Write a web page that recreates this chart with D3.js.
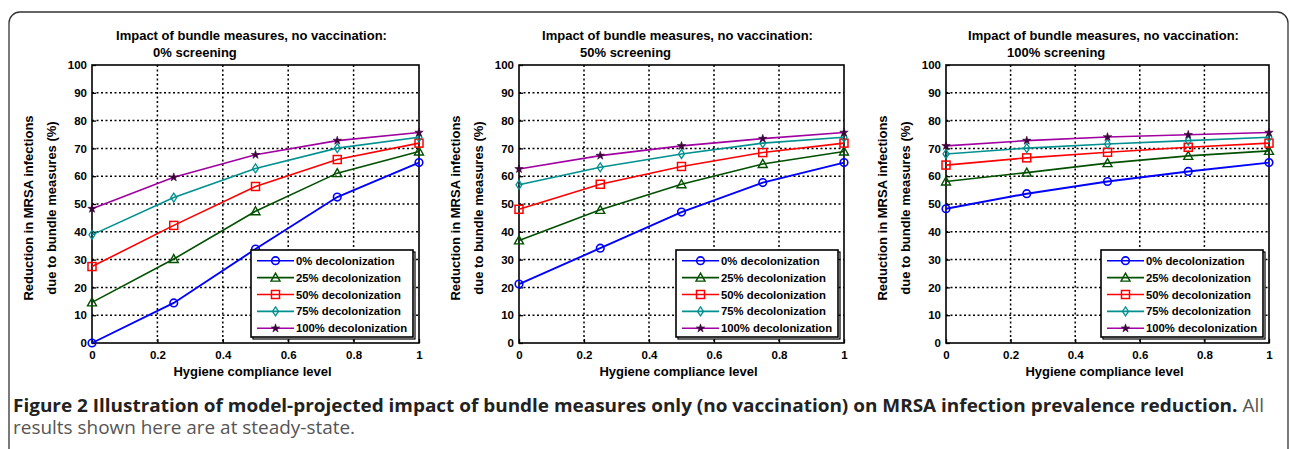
<!DOCTYPE html>
<html>
<head>
<meta charset="utf-8">
<script src="https://cdn.jsdelivr.net/npm/d3@7"></script>
<style>
  html, body { margin: 0; padding: 0; background: #fff; }
  svg { display: block; }
</style>
</head>
<body>
<svg id="chart" width="1290" height="449"></svg>
<script>
// ---------------- DATA ----------------
const hygieneLevels = [0, 0.25, 0.5, 0.75, 1];
const xTickValues = [0, 0.2, 0.4, 0.6, 0.8, 1];
const xTickLabels = ["0", "0.2", "0.4", "0.6", "0.8", "1"];
const yTickValues = [0, 10, 20, 30, 40, 50, 60, 70, 80, 90, 100];
const seriesNames = ["0% decolonization", "25% decolonization", "50% decolonization", "75% decolonization", "100% decolonization"];
const panelSubtitles = ["0% screening", "50% screening", "100% screening"];
const titleLine1 = "Impact of bundle measures, no vaccination:";
const yLabelLines = ["Reduction in MRSA infections", "due to bundle measures (%)"];
const xLabel = "Hygiene compliance level";

// each row: one decolonization level, values at hygieneLevels
const screening0 = [
  [0, 14.4, 33.8, 52.5, 64.9],
  [14.6, 30.2, 47.4, 61.1, 68.9],
  [27.5, 42.3, 56.3, 66.0, 71.9],
  [38.9, 52.3, 62.8, 70.1, 74.0],
  [48.3, 59.6, 67.7, 72.8, 75.7]
];
const screening50 = [
  [21.2, 34.1, 47.1, 57.7, 64.9],
  [36.9, 47.9, 57.1, 64.4, 68.9],
  [48.1, 57.1, 63.5, 68.5, 71.9],
  [56.9, 63.2, 68.0, 71.9, 74.0],
  [62.6, 67.4, 70.9, 73.5, 75.7]
];
const screening100 = [
  [48.3, 53.7, 58.1, 61.7, 64.9],
  [58.1, 61.3, 64.7, 67.3, 69.1],
  [64.0, 66.6, 68.6, 70.4, 71.9],
  [68.0, 70.1, 71.6, 72.8, 74.0],
  [70.9, 72.8, 74.1, 74.9, 75.7]
];
const panelData = [screening0, screening50, screening100];

const captionBold = "Figure 2 Illustration of model-projected impact of bundle measures only (no vaccination) on MRSA infection prevalence reduction.";
const captionRest = " All";
const captionLine2 = "results shown here are at steady-state.";

// ---------------- STYLE ----------------
const seriesColors = ["#0000ff", "#005000", "#ff0000", "#009090", "#a000a0"];
const markerTypes = ["circle", "triangle", "square", "diamond", "star"];
const panelX = [[92, 419], [519, 844], [946, 1269]];
const plotTop = 65, plotBottom = 343;
const chartFont = "'Liberation Sans', Arial, sans-serif";

const svg = d3.select("#chart");

// outer rounded frame
(function(){
  const x0 = 9, y0 = 12, x1 = 1288, r = 11, yEnd = 470;
  const p = d3.path();
  p.moveTo(x0, yEnd);
  p.lineTo(x0, y0 + r);
  p.arcTo(x0, y0, x0 + r, y0, r);
  p.lineTo(x1 - r, y0);
  p.arcTo(x1, y0, x1, y0 + r, r);
  p.lineTo(x1, yEnd);
  svg.append("path").attr("d", p.toString()).attr("fill", "none")
    .attr("stroke", "#333").attr("stroke-width", 1.3);
})();

function drawMarker(g, type, cx, cy, color) {
  if (type === "circle") {
    g.append("circle").attr("cx", cx).attr("cy", cy).attr("r", 3.8)
      .attr("fill", "none").attr("stroke", color).attr("stroke-width", 1.6);
  } else if (type === "triangle") {
    g.append("path").attr("d", `M${cx},${cy-4.5}L${cx+4.5},${cy+3.5}L${cx-4.5},${cy+3.5}Z`)
      .attr("fill", "none").attr("stroke", color).attr("stroke-width", 1.4);
  } else if (type === "square") {
    g.append("rect").attr("x", cx - 4).attr("y", cy - 4).attr("width", 8).attr("height", 8)
      .attr("fill", "none").attr("stroke", color).attr("stroke-width", 1.5);
  } else if (type === "diamond") {
    g.append("path").attr("d", `M${cx},${cy-4.5}L${cx+3},${cy}L${cx},${cy+4.5}L${cx-3},${cy}Z`)
      .attr("fill", "none").attr("stroke", color).attr("stroke-width", 1.3);
  } else if (type === "star") {
    g.append("path").attr("d", d3.symbol().type(d3.symbolStar).size(22)())
      .attr("transform", `translate(${cx},${cy})`)
      .attr("fill", "#3a003a").attr("stroke", "#3a003a").attr("stroke-width", 0.6);
  }
}

panelData.forEach((data, pi) => {
  const [left, right] = panelX[pi];
  const x = d3.scaleLinear().domain([0, 1]).range([left, right]);
  const y = d3.scaleLinear().domain([0, 100]).range([plotBottom, plotTop]);
  const g = svg.append("g");

  // grid
  g.append("g").selectAll("line").data(xTickValues.slice(1, -1)).join("line")
    .attr("x1", d => x(d)).attr("x2", d => x(d)).attr("y1", plotTop).attr("y2", plotBottom)
    .attr("stroke", "#000").attr("stroke-width", 1.5).attr("stroke-dasharray", "2,2.5");
  g.append("g").selectAll("line").data(yTickValues.slice(1, -1)).join("line")
    .attr("y1", d => y(d)).attr("y2", d => y(d)).attr("x1", left).attr("x2", right)
    .attr("stroke", "#000").attr("stroke-width", 1.5).attr("stroke-dasharray", "2,2.5");

  // axes
  const xAxis = d3.axisBottom(x).tickValues(xTickValues).tickFormat((d, i) => xTickLabels[i])
    .tickSizeInner(-4).tickSizeOuter(0).tickPadding(8);
  const yAxis = d3.axisLeft(y).tickValues(yTickValues).tickFormat(d3.format("d"))
    .tickSizeInner(-4).tickSizeOuter(0).tickPadding(5);
  const gx = g.append("g").attr("transform", `translate(0,${plotBottom})`).call(xAxis);
  const gy = g.append("g").attr("transform", `translate(${left},0)`).call(yAxis);
  [gx, gy].forEach(a => {
    a.select(".domain").remove();
    a.selectAll("line").attr("stroke", "#000").attr("stroke-width", 1.3);
    a.selectAll("text").attr("font-family", chartFont).attr("font-weight", "bold")
      .attr("font-size", 11.5).attr("fill", "#000");
  });

  // frame
  g.append("rect").attr("x", left).attr("y", plotTop).attr("width", right - left)
    .attr("height", plotBottom - plotTop).attr("fill", "none")
    .attr("stroke", "#000").attr("stroke-width", 1.6);

  // series
  const line = d3.line().x((d, i) => x(hygieneLevels[i])).y(d => y(d));
  data.forEach((vals, si) => {
    g.append("path").datum(vals).attr("d", line).attr("fill", "none")
      .attr("stroke", seriesColors[si]).attr("stroke-width", si === 0 ? 1.9 : 1.6);
    vals.forEach((v, i) => drawMarker(g, markerTypes[si], x(hygieneLevels[i]), y(v), seriesColors[si]));
  });

  // titles
  g.append("text").attr("x", (left + right) / 2 - 4).attr("y", 39.5).attr("text-anchor", "middle")
    .attr("font-family", chartFont).attr("font-weight", "bold").attr("font-size", 13)
    .text(titleLine1);
  g.append("text").attr("x", left + 61).attr("y", 56.5)
    .attr("font-family", chartFont).attr("font-weight", "bold").attr("font-size", 13)
    .text(panelSubtitles[pi]);

  // x label
  g.append("text").attr("x", (left + right) / 2 - 3).attr("y", 376).attr("text-anchor", "middle")
    .attr("font-family", chartFont).attr("font-weight", "bold").attr("font-size", 13)
    .text(xLabel);

  // y label
  const cy = (plotTop + plotBottom) / 2 + 4;
  [left - 59, left - 36].forEach((lx, li) => {
    g.append("text").attr("transform", `translate(${lx},${cy}) rotate(-90)`)
      .attr("text-anchor", "middle")
      .attr("font-family", chartFont).attr("font-weight", "bold").attr("font-size", 13)
      .text(yLabelLines[li]);
  });

  // legend
  const lw = 162, lh = 87;
  const lx = right - 168, ly = 250;
  const lg = g.append("g");
  lg.append("rect").attr("x", lx + 2).attr("y", ly + 2).attr("width", lw).attr("height", lh)
    .attr("fill", "none").attr("stroke", "#000").attr("stroke-width", 1.2);
  lg.append("rect").attr("x", lx).attr("y", ly).attr("width", lw).attr("height", lh)
    .attr("fill", "#fff").attr("stroke", "#000").attr("stroke-width", 1.6);
  seriesNames.forEach((name, si) => {
    const ry = ly + 10.7 + si * 16.9;
    lg.append("line").attr("x1", lx + 6).attr("x2", lx + 43).attr("y1", ry).attr("y2", ry)
      .attr("stroke", seriesColors[si]).attr("stroke-width", 1.6);
    drawMarker(lg, markerTypes[si], lx + 24.5, ry, seriesColors[si]);
    lg.append("text").attr("x", lx + 45).attr("y", ry + 4)
      .attr("font-family", chartFont).attr("font-weight", "bold").attr("font-size", 11.3)
      .text(name);
  });
});

// caption
const capFont = "'Open Sans', 'Noto Sans', sans-serif";
const cap1 = svg.append("text").attr("x", 0).attr("y", 0)
  .attr("font-family", capFont).attr("font-size", 18);
cap1.append("tspan").attr("font-weight", "bold").attr("fill", "#222").text(captionBold);
cap1.append("tspan").attr("fill", "#555").text(captionRest);
const cap2 = svg.append("text").attr("x", 0).attr("y", 0)
  .attr("font-family", capFont).attr("font-size", 18).attr("fill", "#555").text(captionLine2);
const w1 = cap1.node().getComputedTextLength();
const sx = (1265 - 13) / w1;
cap1.attr("transform", `translate(13,411.5) scale(${sx},1)`);
cap2.attr("transform", `translate(13,434) scale(${sx},1)`);
</script>
</body>
</html>
